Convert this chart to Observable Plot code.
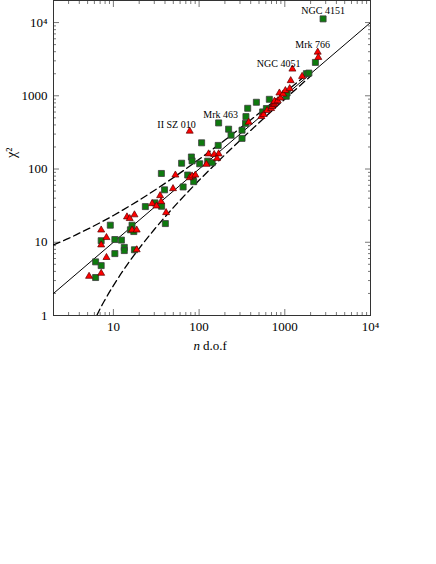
<!DOCTYPE html>
<html><head><meta charset="utf-8">
<script src="https://cdn.jsdelivr.net/npm/d3@7"></script>
<script src="https://cdn.jsdelivr.net/npm/@observablehq/plot@0.6"></script>
<style>
html,body{margin:0;padding:0;background:#fff;}
body{width:436px;height:564px;overflow:hidden;font-family:"Liberation Serif","Times New Roman",serif;}
</style>
</head><body><div id="chart"></div>
<script>
// ---- data ----
const greenN   = [9.2,7.2,10.4,12.4,13.4,13.4,10.4,17.6,6.2,7.2,6.2,16.5,15.8,17.3,23.6,30.5,36.5,40.4,39.5,36.3,65.1,62.5,81.3,82.8,73.6,85.1,86.5,101.6,126,142,107,167,169,221,236,317,317,348,352,369,466,660,552,610,1040,1064,1786,1910,2275,2798];
const greenChi = [17.1,10.5,10.9,10.7,8.5,7.7,7.0,7.9,5.4,4.8,3.3,17.1,14.8,14.0,30.7,34.5,31.0,18.0,52,87,56.9,120,146,129,82.8,78,67.2,118,128,122,228,210,426,350,290,339,262,420,520,675,816,895,602,670,984,1092,2006,2043,2856,11220];

const redN   = [5.2,7.2,8.3,7.2,8.3,7.2,14.4,15.5,17.6,16.5,18.7,18.7,28.3,31.8,36.0,35.1,41.2,49.6,52.9,77.7,82.8,90.5,77.7,121.7,129,150,169,162,379,533,567,621,692,711,730,757,777,757,827,889,865,955,1016,1141,1172,1227,1592,2421,2460];
const redChi = [3.43,3.77,6.2,9.2,11.6,14.7,22.2,21.1,23.7,14.7,14.7,7.9,33.7,31.3,35.9,43.3,25.4,54,82.8,76.2,80.5,82.8,329,116,161,158,161,139,436,521,555,629,670,713,759,773,823,841,856,933,1092,1057,1177,1253,1610,2316,1842,3945,3342];

// chi^2 = n reference line
const solidN   = [2, 10000];
const solidChi = [2, 10000];
// dashed envelopes
const upperN   = [2,3,4,5,7,10,15,20,30,50,70,100,150,200,300,500,700,1000,1500,2000];
const upperChi = [9.2,11.3,13.3,15.1,18.5,23.2,30.6,37.6,50.9,76.2,100.4,135.8,193,249,360,576,789,1107,1630,2150];
const lowerN   = [6.4,7,8,10,15,20,30,50,70,100,150,200,300,500,700,1000,1500,2000];
const lowerChi = [1.0,1.24,1.65,2.56,5.23,8.26,14.95,29.7,45.4,70.1,112.7,156.4,246,429,616,899,1375,1855];

// annotated objects
const labelNames = ["NGC 4151","Mrk 766","NGC 4051","Mrk 463","II SZ 010"];
const labelN     = [2798, 2421, 1227, 169, 77.7];
const labelChi   = [11220, 3945, 2316, 426, 329];

// ticks
const xMajor = [10,100,1000,10000];
const xMajorText = ["10","100","1000","10\u2074"];
const xMinor = [2,3,4,5,6,7,8,9,20,30,40,50,60,70,80,90,200,300,400,500,600,700,800,900,2000,3000,4000,5000,6000,7000,8000,9000];
const yMajor = [1,10,100,1000,10000];
const yMajorText = ["1","10","100","1000","10\u2074"];
const yMinor = [2,3,4,5,6,7,8,9,20,30,40,50,60,70,80,90,200,300,400,500,600,700,800,900,2000,3000,4000,5000,6000,7000,8000,9000];

// ---- tables ----
const tbl = (a, b) => a.map((v, i) => ({n: v, chi: b[i]}));
const greens = tbl(greenN, greenChi);
const reds = tbl(redN, redChi);
const solid = tbl(solidN, solidChi);
const upper = tbl(upperN, upperChi);
const lower = tbl(lowerN, lowerChi);
const labels = labelNames.map((s, i) => ({name: s, n: labelN[i], chi: labelChi[i]}));
const labelStyle = {
  "NGC 4151": {textAnchor: "middle", dx: 0, dy: -8},
  "Mrk 766": {textAnchor: "middle", dx: -5, dy: -7},
  "NGC 4051": {textAnchor: "end", dx: 8, dy: -5},
  "Mrk 463": {textAnchor: "middle", dx: 2, dy: -8},
  "II SZ 010": {textAnchor: "end", dx: 6, dy: -6}
};
const xfmt = d => xMajorText[xMajor.indexOf(d)];
const yfmt = d => yMajorText[yMajor.indexOf(d)];
const tickColor = "#555";
const MAJ = 6, MIN = 3;
const inTicks = (axis, ticks, anchor, size) => {
  const shift = anchor === "bottom" ? {dy: -size} : anchor === "top" ? {dy: size} : anchor === "left" ? {dx: size} : {dx: -size};
  return axis(ticks, {anchor, tickSize: size, text: null, label: null, stroke: tickColor, strokeWidth: 0.8, ...shift});
};

const chart = Plot.plot({
  width: 436, height: 362,
  marginLeft: 53, marginRight: 66, marginTop: 0, marginBottom: 47,
  x: {type: "log", domain: [2, 10000]},
  y: {type: "log", domain: [1, 20000]},
  style: {fontFamily: '"Liberation Serif","Times New Roman",serif', fontSize: "13px", background: "white", color: "#000"},
  marks: [
    // axes: labels
    Plot.axisX(xMajor, {anchor: "bottom", tickSize: 0, tickPadding: 6, tickFormat: xfmt, label: null, fontSize: 13}),
    Plot.axisY(yMajor, {anchor: "left", tickSize: 0, tickPadding: 6, tickFormat: yfmt, label: null, fontSize: 13}),
    // inward ticks, all four sides
    inTicks(Plot.axisX, xMajor, "bottom", MAJ),
    inTicks(Plot.axisX, xMinor, "bottom", MIN),
    inTicks(Plot.axisX, xMajor, "top", MAJ),
    inTicks(Plot.axisX, xMinor, "top", MIN),
    inTicks(Plot.axisY, yMajor, "left", MAJ),
    inTicks(Plot.axisY, yMinor, "left", MIN),
    inTicks(Plot.axisY, yMajor, "right", MAJ),
    inTicks(Plot.axisY, yMinor, "right", MIN),
    Plot.frame({stroke: "#333", strokeWidth: 1}),
    // lines
    Plot.line(solid, {x: "n", y: "chi", stroke: "#000", strokeWidth: 1, clip: true}),
    Plot.line(upper, {x: "n", y: "chi", stroke: "#000", strokeWidth: 1.3, strokeDasharray: "7,4", curve: "monotone-x", clip: true}),
    Plot.line(lower, {x: "n", y: "chi", stroke: "#000", strokeWidth: 1.3, strokeDasharray: "7,4", curve: "monotone-x", clip: true}),
    // points
    Plot.dot(greens, {x: "n", y: "chi", symbol: "square", r: 3.4, fill: "#0e7a0e", stroke: "#3c3c3c", strokeWidth: 0.8}),
    Plot.dot(reds, {x: "n", y: "chi", symbol: "triangle", r: 2.6, fill: "#ff0000", stroke: "#5a0000", strokeWidth: 0.7}),
    // annotations
    ...labels.map(l => Plot.text([l], {x: "n", y: "chi", text: "name", fontSize: 10, fill: "#000", ...labelStyle[l.name]})),
    // axis titles
    Plot.text(["\u03c7\u00b2"], {frameAnchor: "left", dx: -42, rotate: -90, fontSize: 14, fill: "#000"}),
    Plot.text(["n"], {frameAnchor: "bottom", textAnchor: "end", dx: -12, dy: 34, fontStyle: "italic", fontSize: 13, fill: "#000"}),
    Plot.text(["d.o.f"], {frameAnchor: "bottom", textAnchor: "start", dx: -9, dy: 34, fontSize: 13, fill: "#000"})
  ]
});
document.getElementById("chart").appendChild(chart);
</script>
</body></html>
